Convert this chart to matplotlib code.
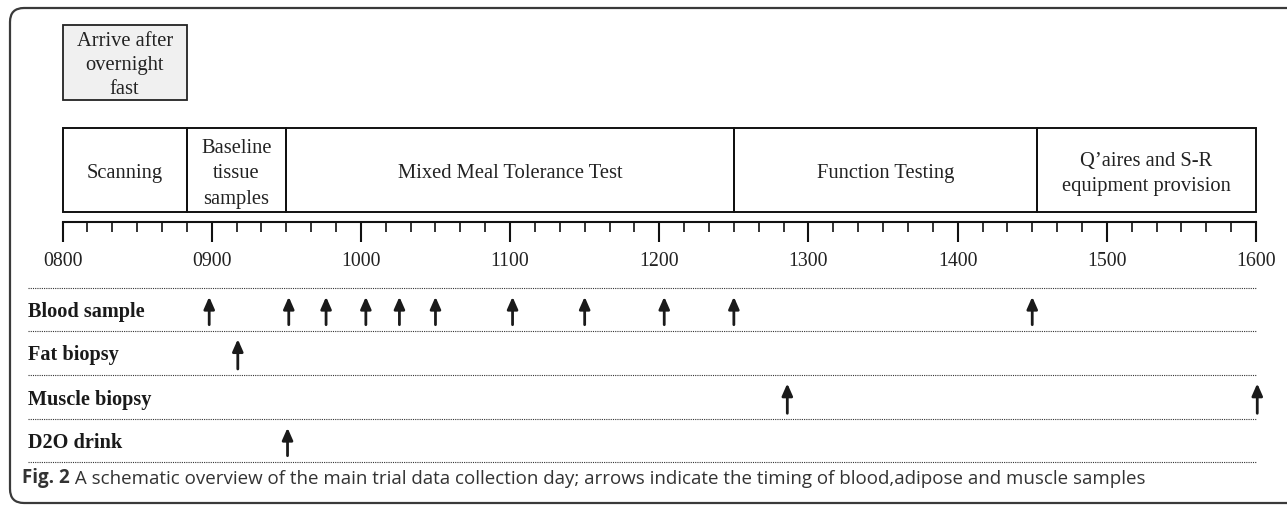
import matplotlib.pyplot as plt
from matplotlib.patches import Rectangle, FancyBboxPatch
import numpy as np

# time in minutes after 0800
tick_labels = ['0800', '0900', '1000', '1100', '1200', '1300', '1400', '1500', '1600']

phase_names = ['Scanning', 'Baseline\ntissue\nsamples', 'Mixed Meal Tolerance Test',
               'Function Testing', "Q\u2019aires and S-R\nequipment provision"]
phase_edges = [0, 50, 90, 270, 392, 480]

arrive_text = 'Arrive after\novernight\nfast'
arrive_span = [0, 50]

row_names = ['Blood sample', 'Fat biopsy', 'Muscle biopsy', 'D2O drink']
blood_times = [59, 91, 106, 122, 135.5, 150, 181, 210, 242, 270, 390]
fat_times = [70.5]
muscle_times = [291.5, 480.5]
d2o_times = [90.5]
row_times = [blood_times, fat_times, muscle_times, d2o_times]

caption_bold = 'Fig. 2'
caption_rest = ' A schematic overview of the main trial data collection day; arrows indicate the timing of blood,adipose and muscle samples'

W, H = 1287, 507
x0_px, px_per_min = 62.5, 2.4865

serif = 'Liberation Serif'
fs = 14.8

fig = plt.figure(figsize=(W / 100, H / 100), dpi=100)

# background axes in pixel units for the rounded frame
bg = fig.add_axes([0, 0, 1, 1])
bg.set_xlim(0, W)
bg.set_ylim(H, 0)
bg.axis('off')
bg.add_patch(FancyBboxPatch((10, 8), 1320, 495,
                            boxstyle='round,pad=0,rounding_size=14',
                            fc='white', ec='#3a3a3a', lw=1.6))

ax = fig.add_axes([0, 0, 1, 1])
ax.set_xlim(-x0_px / px_per_min, (W - x0_px) / px_per_min)
ax.set_ylim(H, 0)
ax.axis('off')

# arrive box
ax.add_patch(Rectangle((arrive_span[0], 25), arrive_span[1] - arrive_span[0], 74.5,
                       fc='#f0f0f0', ec='#222222', lw=1.3))
ax.text(np.mean(arrive_span), 65.5, arrive_text, ha='center', va='center',
        fontsize=fs, family=serif, linespacing=1.38, color='#222222')

# phase boxes
box_top, box_bot = 128, 211.7
for i, name in enumerate(phase_names):
    a, b = phase_edges[i], phase_edges[i + 1]
    ax.add_patch(Rectangle((a, box_top), b - a, box_bot - box_top,
                           fc='none', ec='#111111', lw=1.4))
    ax.text((a + b) / 2, (box_top + box_bot) / 2 + 4, name, ha='center', va='center',
            fontsize=fs, family=serif, linespacing=1.45, color='#222222')

# time axis
axis_y = 221.7
ax.plot([0, 480], [axis_y, axis_y], color='#111111', lw=1.5)
minor = np.arange(0, 481, 10)
major = np.arange(0, 481, 60)
ax.vlines(minor, axis_y, axis_y + 10, color='#111111', lw=1.2)
ax.vlines(major, axis_y, axis_y + 20, color='#111111', lw=1.5)
for t, lab in zip(major, tick_labels):
    ax.text(t, 262, lab, ha='center', va='center', fontsize=14.3, family=serif,
            color='#222222')

# sample rows
row_lines = [288.3, 330.7, 375, 419.3, 461.7]
for y in row_lines:
    ax.plot([-14, 480], [y, y], color='#333333', lw=0.8, ls=(0, (1, 1)))

for i, name in enumerate(row_names):
    top, bot = row_lines[i], row_lines[i + 1]
    ax.text(-13.8, (top + bot) / 2 + 2.5, name, ha='left', va='center',
            fontsize=14.6, family=serif, fontweight='bold', color='#1a1a1a')
    for t in row_times[i]:
        ax.annotate('', xy=(t, top + 8.5), xytext=(t, bot - 6),
                    arrowprops=dict(arrowstyle='-|>,head_length=0.5,head_width=0.22',
                                    mutation_scale=14.4, lw=2, color='#1a1a1a',
                                    shrinkA=0, shrinkB=0))

# caption
cap = ax.text(-16.3, 478, caption_bold, ha='left', va='center', fontsize=13.5,
              family='Open Sans', fontweight='bold', color='#333333')
ax.annotate(caption_rest, xy=(1, 0), xycoords=cap, va='bottom', ha='left',
            fontsize=13.5, family='Open Sans', color='#333333')

fig.savefig('out.png', dpi=100)
